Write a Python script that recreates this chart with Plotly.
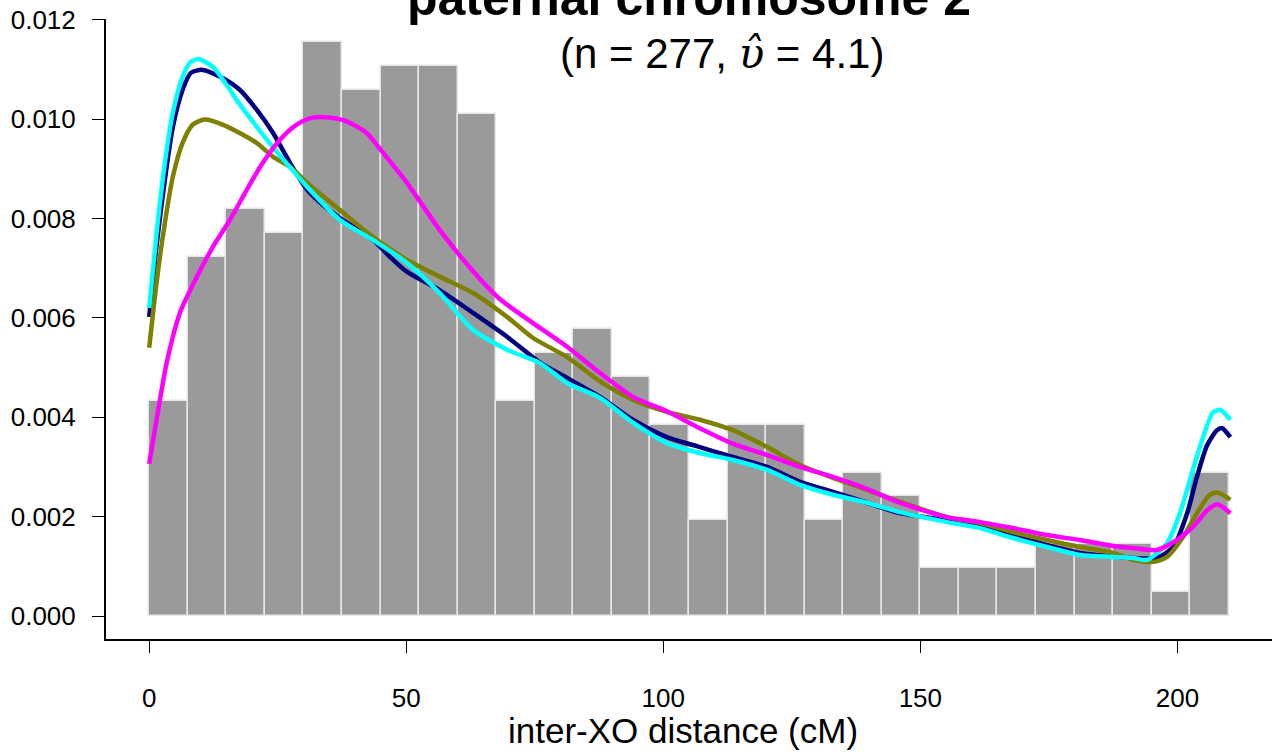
import plotly.graph_objects as go

# ---------------- data ----------------
n_obs = 277
bin_width = 7.5
bin_left = [0, 7.5, 15, 22.5, 30, 37.5, 45, 52.5, 60, 67.5, 75, 82.5, 90, 97.5,
            105, 112.5, 120, 127.5, 135, 142.5, 150, 157.5, 165, 172.5, 180,
            187.5, 195, 202.5]
bin_counts = [9, 15, 17, 16, 24, 22, 23, 23, 21, 9, 11, 12, 10, 8,
              4, 8, 8, 4, 6, 5, 2, 2, 2, 3, 3, 3, 1, 6]

navy_x = [0, 1.5, 3.05, 4.6, 6.5, 8.1, 10.4, 13.8, 17.6, 20.9, 24.1, 27.4, 30.7,
          33.8, 37.1, 43.5, 46.8, 50.1, 56.5, 63, 69.6, 76, 81.3, 87.7, 94.1,
          100.7, 107.1, 113.5, 120.2, 126.6, 133, 139.6, 146, 155.2, 161.6, 168,
          174.6, 181, 187.5, 191.4, 196, 199.2, 201.9, 203.8, 205.8, 207.7,
          208.7, 210.3]
navy_y = [0.00602, 0.00751, 0.00878, 0.00984, 0.01059, 0.01093, 0.01099, 0.01085,
          0.01059, 0.01019, 0.00972, 0.00912, 0.00858, 0.00827, 0.00801, 0.00757,
          0.00723, 0.00693, 0.00656, 0.0061, 0.00562, 0.00510, 0.00479, 0.00441,
          0.00395, 0.0036, 0.0034, 0.0032, 0.0030, 0.0027, 0.0025, 0.00228,
          0.00207, 0.00193, 0.00181, 0.00163, 0.00143, 0.00127, 0.00120, 0.00117,
          0.00117, 0.00139, 0.00207, 0.0028, 0.00344, 0.00374, 0.00378, 0.0036]

olive_x = [0, 1.5, 3.05, 4.6, 6.5, 8.5, 10.8, 14.3, 17.6, 20.9, 24.1, 27.4, 30.7,
           37.1, 43.5, 50.1, 56.5, 63, 69.6, 74.6, 81.3, 87.7, 94.1, 100.7, 107.1,
           113.5, 120.2, 126.6, 133, 139.6, 146, 155.2, 161.6, 168, 174.6, 181,
           187.5, 191.4, 195.3, 198, 201.1, 203.8, 206.3, 207.9, 210.3]
olive_y = [0.0054, 0.00676, 0.00791, 0.00884, 0.00952, 0.00989, 0.00999, 0.00989,
           0.00972, 0.00952, 0.00924, 0.00904, 0.00872, 0.00817, 0.00763, 0.00717,
           0.00683, 0.0065, 0.00602, 0.0056, 0.00521, 0.00472, 0.00435, 0.00411,
           0.00395, 0.00374, 0.0034, 0.00304, 0.00278, 0.00254, 0.0023, 0.00199,
           0.00187, 0.00169, 0.00153, 0.00139, 0.00127, 0.00113, 0.00109, 0.00119,
           0.00159, 0.00207, 0.00244, 0.00248, 0.00234]

cyan_x = [0, 1.5, 3.05, 4.6, 6.5, 7.9, 9.5, 12.4, 15.1, 17.6, 20.9, 24.1, 27.4,
          30.7, 37.1, 43.5, 50.1, 56.5, 63, 69.6, 76, 81.3, 87.7, 94.1, 100.7,
          107.1, 113.5, 120.2, 126.6, 133, 139.6, 146, 155.2, 161.6, 168, 174.6,
          181, 187.5, 191.4, 194.1, 198, 200.5, 203, 205, 206.9, 208.3, 210.3]
cyan_y = [0.0062, 0.00777, 0.00912, 0.01013, 0.01085, 0.01113, 0.01121, 0.01105,
          0.01068, 0.01030, 0.00985, 0.00943, 0.00903, 0.00864, 0.00797, 0.00757,
          0.00711, 0.0065, 0.00576, 0.00536, 0.00509, 0.00469, 0.00439, 0.00389,
          0.00348, 0.00328, 0.00314, 0.00294, 0.00264, 0.00244, 0.00228, 0.00209,
          0.00189, 0.00177, 0.00157, 0.00139, 0.00123, 0.00119, 0.00117, 0.00113,
          0.00147, 0.00207, 0.00294, 0.0036, 0.00409, 0.00415, 0.00395]

magenta_x = [0, 1.1, 3.4, 5.97, 9.3, 12.4, 15.7, 19, 22.1, 25.4, 28.7, 31.8, 35.1,
             38.5, 42.3, 45.5, 50.1, 56.5, 63, 68.2, 74.6, 81.3, 87.7, 94.1, 100.7,
             107.1, 113.5, 120.2, 126.6, 133, 139.6, 146, 155.2, 161.6, 168, 174.6,
             181, 187.5, 191.4, 196, 199.9, 203, 205.8, 207.7, 210.3]
magenta_y = [0.00306, 0.00374, 0.00509, 0.0061, 0.00683, 0.00743, 0.00797, 0.00858,
             0.00912, 0.00958, 0.00989, 0.01003, 0.01003, 0.00995, 0.00972, 0.00932,
             0.00872, 0.00777, 0.00694, 0.00638, 0.0059, 0.00542, 0.00489, 0.00441,
             0.00412, 0.00378, 0.00347, 0.00324, 0.00300, 0.0028, 0.00256, 0.00228,
             0.00199, 0.00189, 0.00177, 0.00163, 0.00153, 0.00141, 0.00137, 0.00133,
             0.00153, 0.00179, 0.00213, 0.00225, 0.00207]

x_ticks = [0, 50, 100, 150, 200]
y_ticks = [0.000, 0.002, 0.004, 0.006, 0.008, 0.010, 0.012]

title_text = "<b>paternal chromosome 2</b>"
subtitle_text = ("(n = 277, <span style=\"font-family:'DejaVu Serif'\"><i>"
                 "\u03c5\u0302</i></span> = 4.1)")
xlabel_text = "inter-XO distance (cM)"

# ---------------- figure ----------------
FONT = "Liberation Sans, Arial, sans-serif"
bin_centers = [b + bin_width / 2 for b in bin_left]
density = [c / (n_obs * bin_width) for c in bin_counts]

fig = go.Figure()
fig.add_trace(go.Bar(
    x=bin_centers, y=density, width=bin_width,
    marker=dict(color="#9a9a9a", line=dict(color="#e6e6e6", width=1.5)),
    hoverinfo="skip", showlegend=False))

for xs, ys, col in [(navy_x, navy_y, "#000080"), (olive_x, olive_y, "#808000"),
                    (cyan_x, cyan_y, "#00FFFF"), (magenta_x, magenta_y, "#FF00FF")]:
    fig.add_trace(go.Scatter(x=xs, y=ys, mode="lines",
                             line=dict(color=col, width=4.5, shape="spline", smoothing=0.7),
                             showlegend=False))

fig.update_layout(
    width=1274, height=753, autosize=False,
    margin=dict(l=106, r=2, t=19, b=114, pad=0),
    plot_bgcolor="white", paper_bgcolor="white",
    font=dict(family=FONT, color="black"),
    bargap=0,
    xaxis=dict(range=[-8.4, 218.4], tickvals=x_ticks, showgrid=False, zeroline=False,
               showline=True, linecolor="black", linewidth=2, automargin=False,
               ticks="outside", ticklen=12, tickwidth=1.3, tickcolor="black",
               tickfont=dict(size=26, family=FONT), ticklabelstandoff=23),
    yaxis=dict(range=[-0.000462, 0.012014], tickvals=y_ticks, tickformat=".3f",
               showgrid=False, zeroline=False, automargin=False,
               showline=True, linecolor="black", linewidth=2,
               ticks="outside", ticklen=12, tickwidth=1.3, tickcolor="black",
               tickfont=dict(size=26, family=FONT), ticklabelstandoff=11),
    annotations=[
        dict(text=title_text, xref="paper", yref="paper", x=0.5, y=1.0339,
             xanchor="center", yanchor="middle", showarrow=False,
             font=dict(size=50, family=FONT)),
        dict(text=subtitle_text, xref="paper", yref="paper", x=0.528, y=0.9451,
             xanchor="center", yanchor="middle", showarrow=False,
             font=dict(size=42, family=FONT)),
        dict(text=xlabel_text, xref="paper", yref="paper", x=0.495, y=-0.1473,
             xanchor="center", yanchor="middle", showarrow=False,
             font=dict(size=35, family=FONT)),
    ],
)

fig.write_html(
    "out.html",
    config={"displayModeBar": False},
    post_script="document.body.style.margin='0';document.body.style.padding='0';"
                "document.body.style.overflow='hidden';",
)
